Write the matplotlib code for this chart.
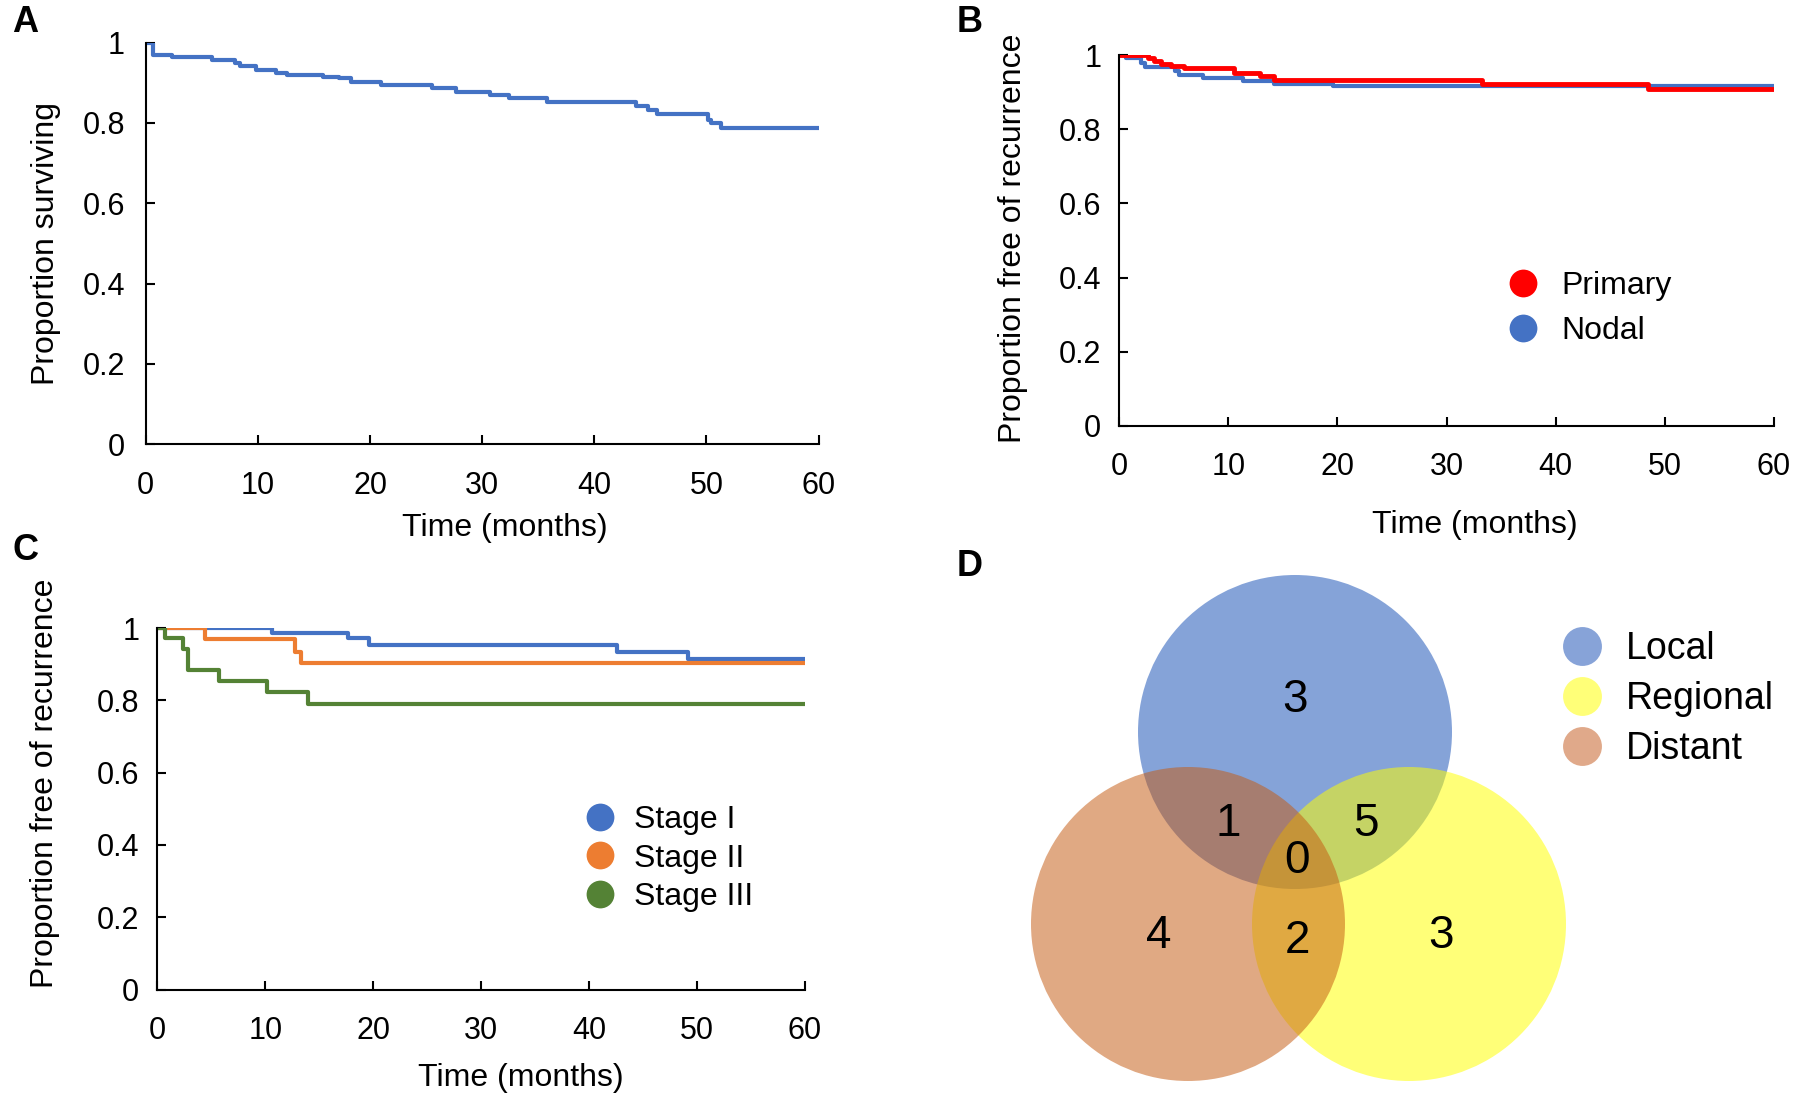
import matplotlib
matplotlib.use("Agg")
import matplotlib.pyplot as plt
from matplotlib.lines import Line2D
from matplotlib.patches import Circle
from matplotlib.ticker import FuncFormatter

plt.rcParams['font.family'] = ['Liberation Sans', 'DejaVu Sans']

# ---- data ----
# A: overall survival
surv_t = [0, 0.6, 2.3, 5.9, 8.0, 8.4, 9.8, 11.6, 12.6, 15.8, 17.2, 18.3, 21.0,
          25.5, 27.7, 30.7, 32.4, 35.8, 43.7, 44.8, 45.6, 50.1, 50.4, 51.3, 60]
surv_p = [1.0, 0.970, 0.964, 0.956, 0.948, 0.942, 0.931, 0.925, 0.918, 0.915,
          0.912, 0.902, 0.895, 0.888, 0.878, 0.870, 0.862, 0.853, 0.843, 0.833,
          0.822, 0.808, 0.800, 0.787, 0.787]

# B: recurrence-free by site
primary_t = [0, 2.6, 3.2, 3.8, 4.75, 5.9, 10.5, 12.9, 14.2, 33.3, 48.5, 60]
primary_p = [1.0, 0.991, 0.985, 0.977, 0.971, 0.965, 0.953, 0.944, 0.932,
             0.923, 0.909, 0.909]
nodal_t = [0, 0.6, 2.0, 2.4, 5.1, 5.5, 7.7, 11.3, 14.2, 19.6, 60]
nodal_p = [1.0, 0.991, 0.980, 0.968, 0.957, 0.947, 0.938, 0.930, 0.922,
           0.917, 0.917]

# C: recurrence-free by stage
stage1_t = [0, 10.6, 17.7, 19.6, 42.6, 49.2, 60]
stage1_p = [1.0, 0.986, 0.972, 0.953, 0.935, 0.914, 0.914]
stage2_t = [0, 4.4, 12.8, 13.3, 60]
stage2_p = [1.0, 0.970, 0.935, 0.902, 0.902]
stage3_t = [0, 0.7, 2.4, 2.8, 5.7, 10.2, 14.0, 60]
stage3_p = [1.0, 0.972, 0.941, 0.884, 0.854, 0.823, 0.791, 0.791]

# D: pattern of recurrence (Venn counts)
venn_sets = ["Local", "Regional", "Distant"]
venn_regions = ["Local", "Regional", "Distant", "Local+Regional",
                "Local+Distant", "Regional+Distant", "All"]
venn_counts = [3, 3, 4, 5, 1, 2, 0]

x_ticks = [0, 10, 20, 30, 40, 50, 60]
y_ticks = [0, 0.2, 0.4, 0.6, 0.8, 1]

BLUE = '#4472C4'
ORANGE = '#ED7D31'
GREEN = '#548235'
RED = '#FF0000'

W, H = 1800, 1108
fig = plt.figure(figsize=(W / 100, H / 100), dpi=100)


def px_axes(left, top, right, bottom):
    return fig.add_axes([left / W, 1 - bottom / H, (right - left) / W, (bottom - top) / H])


def style_km(ax, ylabel, xlab_pos, ylab_pos, ypad=14):
    ax.set_xlim(0, 60)
    ax.set_ylim(0, 1)
    ax.set_xticks(x_ticks)
    ax.set_yticks(y_ticks)
    ax.yaxis.set_major_formatter(FuncFormatter(lambda v, p: f"{v:g}"))
    for s in ['top', 'right']:
        ax.spines[s].set_visible(False)
    for s in ['left', 'bottom']:
        ax.spines[s].set_linewidth(1.5)
    ax.tick_params(direction='in', length=6.5, width=1.5, labelsize=22)
    ax.tick_params(axis='x', pad=19)
    ax.tick_params(axis='y', pad=ypad)
    ax.set_xlabel('Time (months)', fontsize=23)
    ax.set_ylabel(ylabel, fontsize=23)
    ax.xaxis.set_label_coords(*xlab_pos)
    ax.yaxis.set_label_coords(*ylab_pos)


def key(ax, colors, labels, anchor, fs, ms, textpad, spacing):
    handles = [Line2D([], [], ls='', marker='o', markersize=ms, color=c,
                      markeredgewidth=0) for c in colors]
    ax.legend(handles, labels, loc='upper left', frameon=False, fontsize=fs,
              bbox_to_anchor=(anchor[0] / W, 1 - anchor[1] / H),
              bbox_transform=fig.transFigure, borderpad=0, borderaxespad=0,
              handlelength=1.0, handletextpad=textpad, labelspacing=spacing)


# ---- A ----
axA = px_axes(145.8, 42.5, 818.5, 444.3)
axA.plot(surv_t, surv_p, drawstyle='steps-post', color=BLUE, lw=3)
style_km(axA, 'Proportion surviving', (0.534, -0.172), (-0.126, 0.5), ypad=15)

# ---- B ----
axB = px_axes(1119.3, 55.1, 1773.7, 425.9)
axB.plot(nodal_t, nodal_p, drawstyle='steps-post', color=BLUE, lw=3)
axB.plot(primary_t, primary_p, drawstyle='steps-post', color=RED, lw=3.5)
style_km(axB, 'Proportion free of recurrence', (0.544, -0.226), (-0.139, 0.507), ypad=13)
key(axB, [RED, BLUE], ['Primary', 'Nodal'], (1507, 271), 23, 20, 0.69, 0.48)

# ---- C ----
axC = px_axes(157.3, 628, 804.7, 989.6)
axC.plot(stage1_t, stage1_p, drawstyle='steps-post', color=BLUE, lw=3)
axC.plot(stage2_t, stage2_p, drawstyle='steps-post', color=ORANGE, lw=3)
axC.plot(stage3_t, stage3_p, drawstyle='steps-post', color=GREEN, lw=3)
style_km(axC, 'Proportion free of recurrence', (0.562, -0.204), (-0.150, 0.571), ypad=13)
key(axC, [BLUE, ORANGE, GREEN], ['Stage I', 'Stage II', 'Stage III'],
    (584, 805), 23, 20, 0.56, 0.27)

# ---- D : Venn ----
axD = px_axes(960, 548, 1800, 1108)
axD.set_xlim(960, 1800)
axD.set_ylim(1108, 548)
axD.axis('off')

venn_colors = ['#4472C4', '#FFFF00', '#C55A11']
venn_alpha = [0.65, 0.53, 0.52]
venn_solid = ['#87A3D8', '#FFFF78', '#E0A98A']
circle_xy = [(1295, 732), (1409, 924), (1188, 924)]
radius = 157
for xy, c, a in zip(circle_xy, venn_colors, venn_alpha):
    axD.add_patch(Circle(xy, radius, facecolor=c, alpha=a, edgecolor='none'))

label_xy = [(1295, 700), (1441, 936), (1159, 936), (1366, 824),
            (1228, 824), (1297, 941), (1297, 861)]
for (lx, ly), n in zip(label_xy, venn_counts):
    axD.text(lx, ly, str(n), fontsize=33, ha='center', va='center')

key(axD, venn_solid, venn_sets, (1563, 631), 27, 28, 0.68, 0.37)

# panel letters
for letter, (lx, ly) in zip('ABCD', [(25, 23), (970, 23), (25, 551), (970, 566)]):
    fig.text(lx / W, 1 - ly / H, letter, fontsize=26, fontweight='bold',
             ha='center', va='center')

fig.savefig('out.png', dpi=100)
